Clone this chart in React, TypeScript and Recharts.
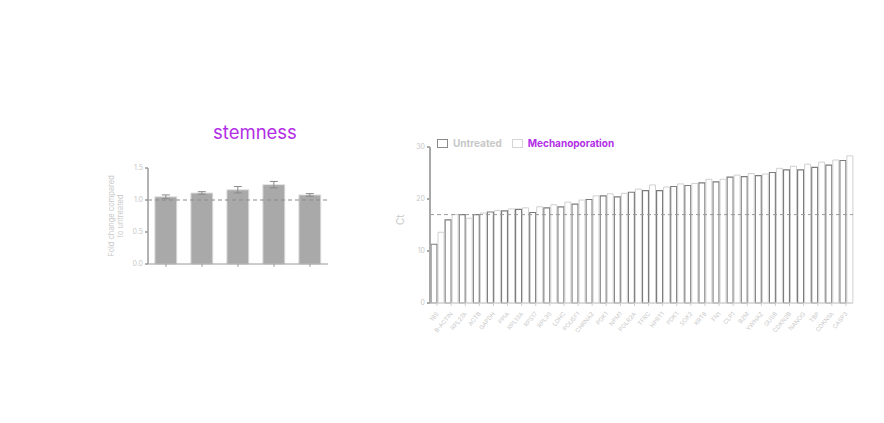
import React from "react";
import {
  BarChart,
  Bar,
  XAxis,
  YAxis,
  ErrorBar,
  ReferenceLine,
} from "recharts";

// stemness panel (fold change vs untreated)
const stemGenes = ["SOX2", "OCT4", "NANOG", "KLF4", "MYC"];
const stemFold = [1.05, 1.11, 1.16, 1.24, 1.08];
const stemErr = [0.03, 0.02, 0.05, 0.05, 0.02];
const foldTicks = [0, 0.5, 1, 1.5];

// Ct panel
const genes = [
  "18S", "B-ACTIN", "RPL27A", "ACTB", "GAPDH", "PPIA", "RPL13A", "RPS17",
  "RPL30", "LDHC", "POU5F1", "CHRNA2", "PGK1", "NPM1", "POLR2A", "TFRC",
  "HPRT1", "PDK1", "SOX2", "KRT8", "FN1", "CLP1", "B2M", "YWHAZ", "GUSB",
  "CDKN2B", "NANOG", "TBP", "CDKN1A", "CASP3",
];
const untreated = [
  11.3, 16.0, 17.0, 17.0, 17.5, 17.7, 18.0, 17.4, 18.3, 18.5, 19.0, 19.9,
  20.6, 20.4, 21.3, 21.6, 21.6, 22.4, 22.6, 23.1, 23.3, 24.2, 24.3, 24.5,
  25.1, 25.6, 25.6, 26.1, 26.5, 27.4,
];
const mechano = [
  13.6, 17.0, 16.3, 17.3, 17.8, 18.1, 18.3, 18.5, 18.9, 19.4, 19.8, 20.6,
  21.0, 21.1, 21.9, 22.7, 22.3, 22.9, 23.0, 23.8, 23.8, 24.6, 24.9, 24.8,
  25.9, 26.3, 26.7, 27.1, 27.5, 28.3,
];
const ctTicks = [0, 10, 20, 30];
const ctBaseline = 17;

const FONT = "Inter, 'Noto Sans', sans-serif";
const PURPLE = "#b22ee6";
const LIGHT = "#c8c8c8";

const FoldLabel = ({ viewBox }: any) => {
  const cx = viewBox.x + 10;
  const cy = viewBox.y + viewBox.height / 2;
  return (
    <text
      transform={`translate(${cx},${cy}) rotate(-90)`}
      textAnchor="middle"
      fontSize={7.5}
      fill={LIGHT}
      fontFamily={FONT}
    >
      <tspan x={0} dy={-4}>Fold change compared</tspan>
      <tspan x={0} dy={9}>to untreated</tspan>
    </text>
  );
};

const GeneTick = ({ x, y, payload }: any) => (
  <g transform={`translate(${x + 2},${y + 6})`}>
    <text
      transform="rotate(-50)"
      textAnchor="end"
      fontSize={6}
      fill={LIGHT}
      fontFamily={FONT}
    >
      {payload.value}
    </text>
  </g>
);

function StemnessChart() {
  const data = stemGenes.map((g, i) => ({
    gene: g,
    fold: stemFold[i],
    err: stemErr[i],
  }));
  return (
    <BarChart
      width={250}
      height={170}
      data={data}
      margin={{ top: 48, right: 12, left: 18, bottom: 16 }}
      barCategoryGap="19%"
    >
      <XAxis
        dataKey="gene"
        height={10}
        tickFormatter={() => ""}
        stroke="#9a9a9a"
        tickSize={3}
      />
      <YAxis
        width={40}
        domain={[0, 1.5]}
        ticks={foldTicks}
        tickFormatter={(v: number) => v.toFixed(1)}
        tick={{ fontSize: 7, fill: LIGHT, fontFamily: FONT }}
        stroke="#9a9a9a"
        strokeWidth={1.5}
        tickSize={3}
        label={<FoldLabel />}
      />
      <Bar
        dataKey="fold"
        fill="#a9a9a9"
        stroke="#e2e2e2"
        strokeWidth={1}
        isAnimationActive={false}
      >
        <ErrorBar dataKey="err" width={4} stroke="#8a8a8a" strokeWidth={1} />
      </Bar>
      <ReferenceLine
        y={1}
        stroke="#8c8c8c"
        strokeWidth={1.2}
        strokeDasharray="4 3"
      />
    </BarChart>
  );
}

function CtChart() {
  const data = genes.map((g, i) => ({
    gene: g,
    untreated: untreated[i],
    mechano: mechano[i],
  }));
  return (
    <BarChart
      width={500}
      height={230}
      data={data}
      margin={{ top: 17, right: 27, left: 20, bottom: 12 }}
      barCategoryGap={1}
      barGap={1}
    >
      <XAxis
        dataKey="gene"
        height={45}
        interval={0}
        tick={<GeneTick />}
        stroke="#d0d0d0"
        tickSize={3}
      />
      <YAxis
        width={30}
        domain={[0, 30]}
        ticks={ctTicks}
        tick={{ fontSize: 7, fill: LIGHT, fontFamily: FONT }}
        stroke="#a8a8a8"
        strokeWidth={2}
        tickSize={3}
        label={{
          value: "Ct",
          angle: -90,
          position: "insideLeft",
          offset: 0,
          fontSize: 10,
          fill: LIGHT,
          fontFamily: FONT,
        }}
      />
      <Bar
        dataKey="untreated"
        fill="#ffffff"
        stroke="#7c7c7c"
        strokeWidth={1.2}
        isAnimationActive={false}
      />
      <Bar
        dataKey="mechano"
        fill="#ffffff"
        stroke="#d0d0d0"
        strokeWidth={1}
        isAnimationActive={false}
      />
      <ReferenceLine
        y={ctBaseline}
        stroke="#9a9a9a"
        strokeWidth={1}
        strokeDasharray="4 3"
      />
    </BarChart>
  );
}

const Swatch = ({ color }: { color: string }) => (
  <span
    style={{
      display: "inline-block",
      width: 9,
      height: 7,
      border: `1px solid ${color}`,
      marginRight: 5,
      verticalAlign: "middle",
    }}
  />
);

export default function App() {
  return (
    <div
      style={{
        position: "absolute",
        left: 0,
        top: 0,
        width: 884,
        height: 423,
        background: "#ffffff",
        fontFamily: FONT,
        overflow: "hidden",
      }}
    >
      <div
        style={{
          position: "absolute",
          left: 213,
          top: 121,
          fontSize: 18.5,
          color: PURPLE,
        }}
      >
        stemness
      </div>
      <div style={{ position: "absolute", left: 90, top: 120 }}>
        <StemnessChart />
      </div>
      <div style={{ position: "absolute", left: 380, top: 130 }}>
        <CtChart />
      </div>
      <div
        style={{
          position: "absolute",
          left: 437,
          top: 136,
          fontSize: 10,
          lineHeight: "13px",
          whiteSpace: "nowrap",
        }}
      >
        <Swatch color="#8a8a8a" />
        <span
          style={{
            color: LIGHT,
            fontWeight: 700,
            marginRight: 10,
            verticalAlign: "middle",
          }}
        >
          Untreated
        </span>
        <Swatch color="#d4d4d4" />
        <span style={{ color: PURPLE, fontWeight: 700, verticalAlign: "middle" }}>
          Mechanoporation
        </span>
      </div>
    </div>
  );
}
